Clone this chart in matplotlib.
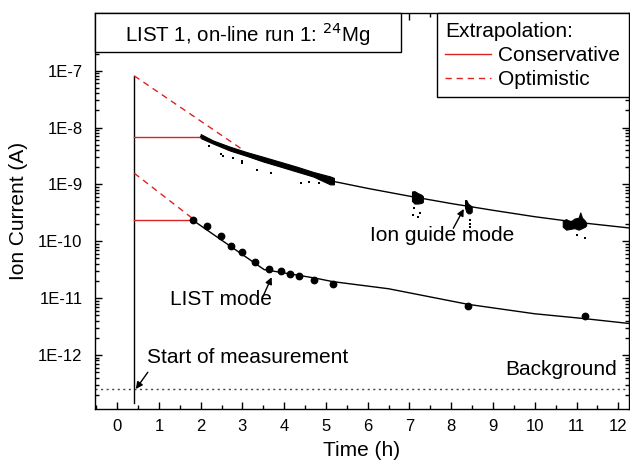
import numpy as np
import matplotlib
matplotlib.use("Agg")
import matplotlib.pyplot as plt
from matplotlib.patches import Rectangle
from matplotlib.lines import Line2D
from matplotlib.ticker import FixedLocator, FixedFormatter, LogLocator, NullFormatter, MultipleLocator

plt.rcParams["font.family"] = ["Liberation Sans", "DejaVu Sans"]

# ion guide mode: dense current band (upper / lower edge)
band_t = [2.0, 2.3, 2.7, 3.1, 3.5, 3.9, 4.3, 4.7, 5.1, 5.19]
band_hi = [7.66e-9, 5.9e-9, 4.6e-9, 3.7e-9, 3.05e-9, 2.5e-9, 2.05e-9, 1.65e-9, 1.38e-9, 1.3e-9]
band_lo = [6.52e-9, 5.2e-9, 3.94e-9, 3.18e-9, 2.52e-9, 2.06e-9, 1.68e-9, 1.37e-9, 1.0e-9, 1.0e-9]

# later ion guide checks
chk1_t = [7.06, 7.12, 7.20, 7.28, 7.32]
chk1_hi = [7.5e-10, 7.6e-10, 7.0e-10, 6.6e-10, 6.2e-10]
chk1_lo = [5.1e-10, 4.6e-10, 4.6e-10, 4.7e-10, 4.9e-10]
chk2_t = [8.33, 8.36, 8.40, 8.45, 8.49]
chk2_hi = [5.3e-10, 5.3e-10, 4.6e-10, 4.3e-10, 4.1e-10]
chk2_lo = [3.9e-10, 3.3e-10, 3.1e-10, 3.1e-10, 3.3e-10]
chk3_t = [10.67, 10.75, 10.85, 10.95, 11.05, 11.09, 11.13, 11.20, 11.23]
chk3_hi = [2.3e-10, 2.45e-10, 2.2e-10, 2.5e-10, 2.6e-10, 3.2e-10, 2.6e-10, 2.3e-10, 2.1e-10]
chk3_lo = [1.8e-10, 1.6e-10, 1.65e-10, 1.7e-10, 1.6e-10, 1.65e-10, 1.7e-10, 1.8e-10, 1.9e-10]

# stray single readings
stray_t = [2.20, 2.48, 2.53, 2.78, 2.99, 2.98, 3.36, 3.68, 4.40, 4.60, 4.84,
           7.12, 7.24, 7.08, 7.20, 8.45, 8.45, 8.44, 11.0, 11.2]
stray_i = [4.7e-9, 3.4e-9, 3.2e-9, 2.9e-9, 2.6e-9, 2.4e-9, 1.8e-9, 1.6e-9, 1.05e-9, 1.12e-9, 1.04e-9,
           3.8e-10, 3.2e-10, 2.9e-10, 2.7e-10, 2.4e-10, 2.0e-10, 1.8e-10, 1.3e-10, 1.15e-10]

# fit through ion guide data
fit_ig_t = [2.0, 2.7, 3.5, 4.3, 5.2, 6.0, 7.0, 8.0, 9.0, 10.0, 11.0, 12.3]
fit_ig_i = [6.9e-9, 4.0e-9, 2.55e-9, 1.75e-9, 1.12e-9, 8.5e-10, 6.2e-10, 4.6e-10, 3.5e-10, 2.7e-10, 2.16e-10, 1.7e-10]

# LIST mode measurements
list_t = [1.81, 2.15, 2.48, 2.73, 2.99, 3.31, 3.64, 3.93, 4.14, 4.36, 4.72, 5.16, 8.41, 11.2]
list_i = [2.35e-10, 1.84e-10, 1.26e-10, 8.2e-11, 6.5e-11, 4.27e-11, 3.25e-11, 3.0e-11, 2.65e-11,
          2.41e-11, 2.11e-11, 1.77e-11, 7.2e-12, 4.76e-12]
fit_list_t = [1.81, 3.52, 4.74, 5.16, 6.5, 8.41, 10.0, 11.2, 12.3]
fit_list_i = [2.35e-10, 3.17e-11, 2.25e-11, 1.95e-11, 1.46e-11, 7.75e-12, 5.3e-12, 4.35e-12, 3.55e-12]

# extrapolation back to start of measurement
t_start = 0.41
start_line = [8.07e-8, 1.41e-13]
cons_ig, cons_list = 6.9e-9, 2.35e-10
opt_ig_t, opt_ig_i = [t_start, 2.98], [8.1e-8, 4.2e-9]
opt_list_t, opt_list_i = [t_start, 1.81], [1.57e-9, 2.5e-10]
background = 2.52e-13

y_ticks = [1e-12, 1e-11, 1e-10, 1e-9, 1e-8, 1e-7]
y_tick_labels = ["1E-12", "1E-11", "1E-10", "1E-9", "1E-8", "1E-7"]

red = "#dd2222"

fig = plt.figure(figsize=(6.3, 4.68), dpi=100)
ax = fig.add_axes([0.1508, 0.126, 0.8472, 0.8456])
ax.set_yscale("log")
ax.set_xlim(-0.53, 12.25)
ax.set_ylim(1.12e-13, 1.02e-6)

ax.axhline(background, color="#444444", lw=1, ls=(0, (1.5, 2.5)))
ax.plot([t_start, t_start], start_line, color="black", lw=1)

ax.plot([t_start, band_t[0]], [cons_ig, cons_ig], color=red, lw=1)
ax.plot([t_start, list_t[0]], [cons_list, cons_list], color=red, lw=1)
ax.plot(opt_ig_t, opt_ig_i, color=red, lw=1, ls=(0, (4.5, 3.5)))
ax.plot(opt_list_t, opt_list_i, color=red, lw=1, ls=(0, (4.5, 3.5)))

for t, hi, lo in [(band_t, band_hi, band_lo), (chk1_t, chk1_hi, chk1_lo),
                  (chk2_t, chk2_hi, chk2_lo), (chk3_t, chk3_hi, chk3_lo)]:
    ax.fill_between(t, lo, hi, color="black", lw=0.8)
ax.plot(stray_t, stray_i, "s", color="black", ms=1.7, mew=0)
ax.plot(fit_ig_t, fit_ig_i, color="black", lw=1)

ax.plot(fit_list_t, fit_list_i, color="black", lw=1)
ax.plot(list_t, list_i, "o", color="black", ms=4.6)

# annotations
fs = 15
ax.text(7.79, 1.02e-10, "Ion guide mode", fontsize=fs, ha="center", va="baseline")
ax.text(2.49, 7.6e-12, "LIST mode", fontsize=fs, ha="center", va="baseline")
ax.text(0.71, 7.3e-13, "Start of measurement", fontsize=fs, ha="left", va="baseline")
ax.text(11.96, 4.45e-13, "Background", fontsize=fs, ha="right", va="baseline")
arrow = dict(arrowstyle="-|>", color="black", lw=1, mutation_scale=10, shrinkA=0, shrinkB=0)
ax.annotate("", xy=(8.3, 3.7e-10), xytext=(8.05, 1.69e-10), arrowprops=arrow)
ax.annotate("", xy=(3.70, 2.33e-11), xytext=(3.49, 1.06e-11), arrowprops=arrow)
ax.annotate("", xy=(0.448, 2.52e-13), xytext=(0.735, 4.97e-13), arrowprops=arrow)

# title box
ax.add_patch(Rectangle((0, 0.903), 0.574, 0.097, transform=ax.transAxes,
                       facecolor="white", edgecolor="black", lw=1, zorder=5, clip_on=False))
ax.text(0.2856, 0.928, "LIST 1, on-line run 1: $^{24}$Mg", transform=ax.transAxes,
        fontsize=14.8, ha="center", va="baseline", zorder=6)

# extrapolation legend
handles = [Line2D([], [], color=red, lw=1),
           Line2D([], [], color=red, lw=1, ls=(0, (4.5, 3.5)))]
leg = ax.legend(handles, ["Conservative", "Optimistic"], title="Extrapolation:",
                loc="upper right", bbox_to_anchor=(1.0, 1.0), borderaxespad=0,
                fontsize=15, title_fontsize=15, alignment="left",
                fancybox=False, framealpha=1, edgecolor="black",
                handlelength=2.2, handletextpad=0.35, labelspacing=0.25, borderpad=0.4)
leg.get_frame().set_linewidth(1)
leg.set_zorder(6)

ax.xaxis.set_major_locator(MultipleLocator(1))
ax.xaxis.set_minor_locator(MultipleLocator(0.5))
ax.yaxis.set_major_locator(FixedLocator(y_ticks))
ax.yaxis.set_major_formatter(FixedFormatter(y_tick_labels))
ax.yaxis.set_minor_locator(LogLocator(base=10, subs=np.arange(2, 10), numticks=30))
ax.yaxis.set_minor_formatter(NullFormatter())
ax.tick_params(which="both", direction="in", top=True, right=True, width=1, labelsize=12)
ax.tick_params(which="major", length=5)
ax.tick_params(which="minor", length=3)
ax.tick_params(axis="y", pad=9)
ax.tick_params(axis="x", pad=7)
for s in ax.spines.values():
    s.set_linewidth(1)

ax.set_xlabel("Time (h)", fontsize=15, labelpad=5)
ax.set_ylabel("Ion Current (A)", fontsize=15, labelpad=7)

fig.savefig("out.png", dpi=100)
